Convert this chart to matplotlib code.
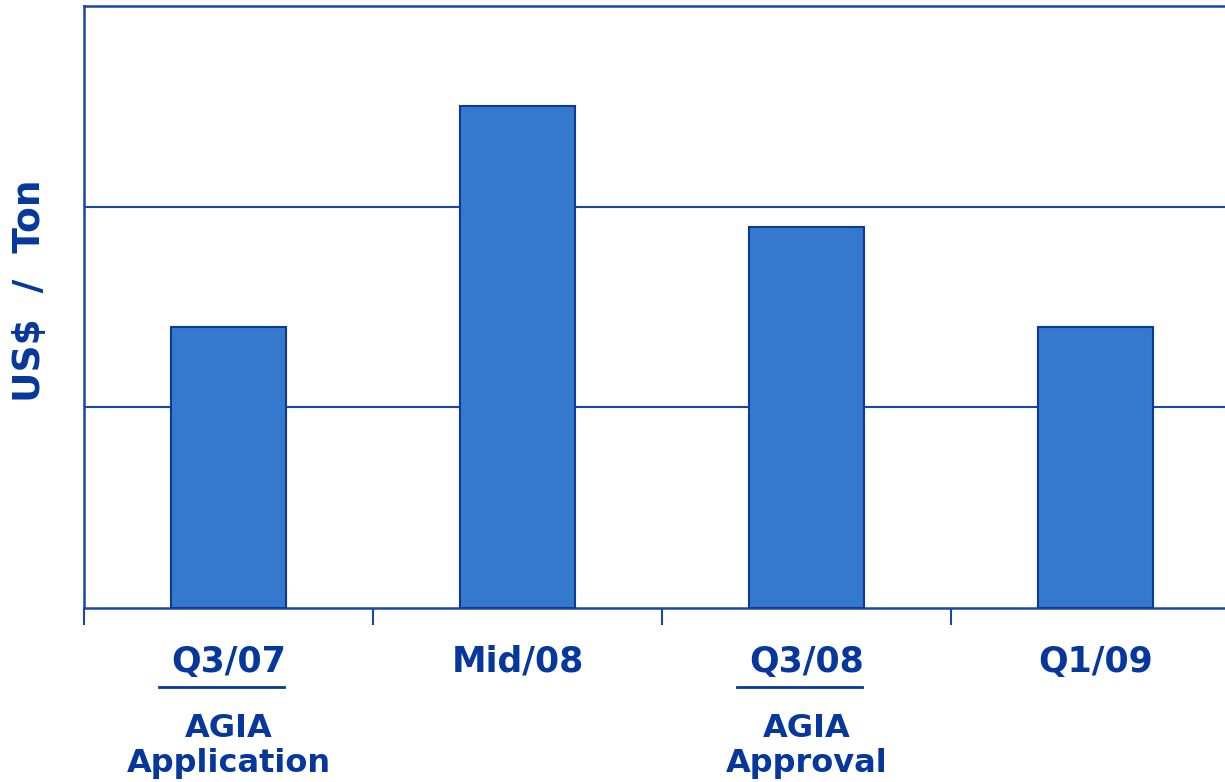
import numpy as np
import matplotlib
matplotlib.use('Agg')
import matplotlib.pyplot as plt
import matplotlib.transforms as mtransforms

categories = ['Q3/07', 'Mid/08', 'Q3/08', 'Q1/09']
values = [1.4, 2.5, 1.9, 1.4]
sub_labels = ['AGIA\nApplication', '', 'AGIA\nApproval', '']

navy = '#06379C'
line_col = '#1A46A8'
bar_col = '#3579CE'

plt.rcParams['font.family'] = ['DejaVu Sans']
plt.rcParams['font.weight'] = 'bold'


def main():
    fig = plt.figure(figsize=(12.25, 7.82), dpi=100)
    ax = fig.add_axes([84 / 1225, 1 - 608 / 782, 1 - 84 / 1225, (608 - 6) / 782])

    x = np.arange(len(categories))
    ax.bar(x, values, width=0.4, color=bar_col, edgecolor='#0D3A9A', linewidth=1.5, zorder=3)

    # tick marks between categories, labels drawn as text
    ax.set_xticks(np.arange(-0.5, len(categories), 1))
    ax.set_xticklabels([])
    ax.tick_params(axis='x', direction='out', length=12, width=1.5, color=line_col)

    # last category runs past the right edge of the picture
    ax.set_xlim(-0.5, -0.5 + 1141 / 289)
    ax.set_ylim(0, 3)
    ax.set_yticks([1, 2])
    ax.yaxis.grid(True, color=line_col, linewidth=1.5, zorder=0)
    ax.tick_params(axis='y', length=0, labelleft=False)

    for side in ['left', 'top', 'bottom']:
        ax.spines[side].set_color(line_col)
        ax.spines[side].set_linewidth(1.8)
    ax.spines['right'].set_visible(False)

    trans = mtransforms.blended_transform_factory(ax.transData, ax.transAxes)
    for i, (cat, sub) in enumerate(zip(categories, sub_labels)):
        ax.text(i, -0.0897, cat, transform=trans, ha='center', va='center',
                fontsize=25, fontweight='bold', color=navy)
        if sub:
            ax.plot([i - 0.241, i + 0.191], [-0.131, -0.131], transform=trans,
                    color=navy, linewidth=2, clip_on=False)
            ax.text(i, -0.229, sub, transform=trans, ha='center', va='center',
                    fontsize=23, fontweight='bold', color=navy, linespacing=1.14)

    fig.text(30 / 1225, 1 - 291 / 782, 'US$  /  Ton', rotation=90, ha='center', va='center',
             fontsize=27, fontweight='bold', color=navy)

    fig.savefig('out.png', dpi=100)


if __name__ == "__main__":
    main()
